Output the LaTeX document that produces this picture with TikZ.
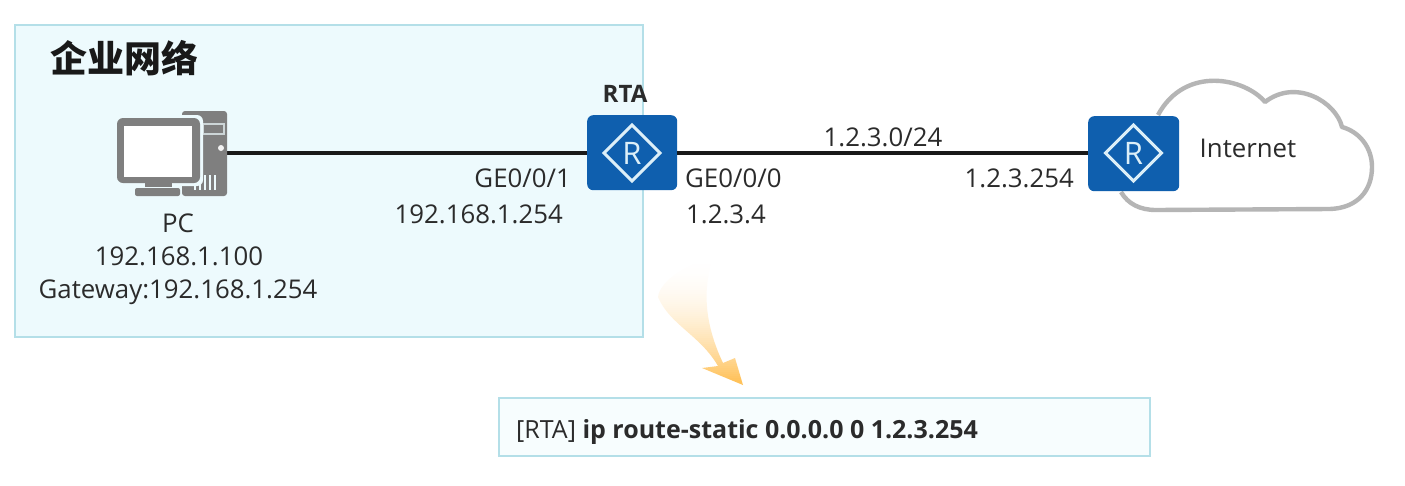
\documentclass[tikz,border=0pt]{standalone}
\usepackage{fontspec}
\setmainfont{Open Sans}
\newfontfamily\cjk{Noto Sans CJK SC}
\definecolor{zone}{HTML}{EDFAFD}
\definecolor{zoneline}{HTML}{B4DFE8}
\definecolor{routerblue}{HTML}{0F5FAE}
\definecolor{iconline}{HTML}{DCEFF8}
\definecolor{pcgray}{HTML}{7F7F7F}
\definecolor{cloudgray}{HTML}{B5B5B5}
\definecolor{txt}{HTML}{2B2B2B}
\definecolor{amber}{HTML}{FFC25A}
\tikzset{
  zonebox/.style={draw=zoneline, line width=1.8pt, fill=zone, inner sep=0pt, minimum width=#1, rectangle},
  routerbox/.style={fill=routerblue, rounded corners=6pt, minimum width=90pt, minimum height=75pt, inner sep=0pt, draw=none},
  rdiamond/.style={draw=iconline, line width=3pt, line join=miter},
  label/.style={text=txt, font=\fontsize{25.8}{26}\selectfont, inner sep=0pt},
  link/.style={draw=black!90, line width=3.2pt},
}
\newcommand{\routericon}[2]{%
  \draw[rdiamond] (#1,#2-28) -- (#1+28,#2) -- (#1,#2+28) -- (#1-28,#2) -- cycle;
  \node[text=iconline, inner sep=0pt, font=\fontsize{31}{31}\selectfont] at (#1,#2) {R};
}
\begin{document}
\begin{tikzpicture}[x=1pt,y=-1pt]
\useasboundingbox (0,0) rectangle (1405,485);
\fill[white] (0,0) rectangle (1405,485);
% enterprise zone
\node[zonebox=628pt, minimum height=312pt, anchor=north west] (zone) at (14.2,24.2) {};
\node[anchor=center, inner sep=0pt, font=\cjk\bfseries\fontsize{37}{37}\selectfont, text=black!90] (title) at (124,58) {企业网络};
% cloud
\draw[draw=cloudgray, line width=4.4pt, fill=white, line join=round]
  (1121,192) .. controls (1128,204) and (1140,210) .. (1156,210)
  -- (1330,209) .. controls (1358,208) and (1372,190) .. (1372,167)
  .. controls (1372,148) and (1360,132) .. (1342,127)
  .. controls (1336,102) and (1296,78) .. (1265,102)
  .. controls (1245,78) and (1185,65) .. (1158,115);
% PC
\node[minimum width=111pt, minimum height=86pt, inner sep=0pt, anchor=north west] (pc) at (116,110) {};
% links under the routers
\node[routerbox, anchor=north west] (rta) at (587,115) {};
\node[routerbox, anchor=north west, minimum width=91pt] (rtb) at (1088,116) {};
\draw[link] (pc.east |- 0,153) -- (rta.west |- 0,153);
\draw[link] (rta.east |- 0,153) -- (rtb.west |- 0,153);
\routericon{632}{153}
\routericon{1133.5}{153}
% PC icon
\fill[pcgray, rounded corners=3pt] (182,111) rectangle (227,196);
\fill[zone!70!pcgray] (202,123) rectangle (225,135);
\fill[pcgray] (204,125) rectangle (223,133);
\fill[white!90!pcgray] (221,148) circle (3pt);
\foreach \vx in {195,200,205,210,215}{\draw[zone, line width=1.5pt] (\vx,{\vx<205?183:175}) -- (\vx,190);}
\fill[zone, rounded corners=6pt] (114,115) rectangle (203,186);
\fill[pcgray, rounded corners=6pt] (117,118) rectangle (200,183);
\fill[white] (124,126) rectangle (192,177);
\fill[pcgray] (145,183) rectangle (172,187);
\fill[pcgray, rounded corners=2pt] (135,188) rectangle (180,196);
% labels
\node[label] (pcname) at (178,223) {PC};
\node[label] (pcip) at (179,256) {192.168.1.100};
\node[label] (pcgw) at (178,292) {Gateway:192.168.1.254};
\node[label, anchor=east] (ge1) at (571,178) {GE0/0/1};
\node[label, anchor=east] (ip1) at (563,214) {192.168.1.254};
\node[label, anchor=west] (ge0) at (685,178) {GE0/0/0};
\node[label, anchor=west] (ip0) at (686,214) {1.2.3.4};
\node[label, anchor=center] (net) at (883,137) {1.2.3.0/24};
\node[label, anchor=east] (ipb) at (1074,178) {1.2.3.254};
\node[label] (inet) at (1248,148) {Internet};
\node[inner sep=0pt, text=txt, font=\bfseries\fontsize{24}{24}\selectfont] (rtaname) at (625,94) {RTA};
% arrow: fades in from top to bottom
\begin{scope}
  \clip (713,258) .. controls (702,290) and (705,325) .. (723,363)
  -- (735,358) -- (743,385) -- (702,368) -- (718,366)
  .. controls (700,335) and (670,325) .. (658,297)
  .. controls (660,280) and (690,262) .. (713,258) -- cycle;
  \foreach \sy in {258,260,...,384}{
    \pgfmathsetmacro{\sop}{min(1,pow((\sy-258)/122,2))}
    \fill[amber, opacity=\sop] (650,\sy) rectangle (750,\sy+2);
  }
\end{scope}
% command box
\node[zonebox=651pt, minimum height=58pt, anchor=north west, fill=zone!45] (cmd) at (498.2,397.2) {};
\node[anchor=west, inner sep=0pt, text=txt, font=\fontsize{25}{25}\selectfont] (cmdtext) at (516,432) {[RTA] \textbf{ip route-static 0.0.0.0 0 1.2.3.254}};
\end{tikzpicture}
\end{document}
